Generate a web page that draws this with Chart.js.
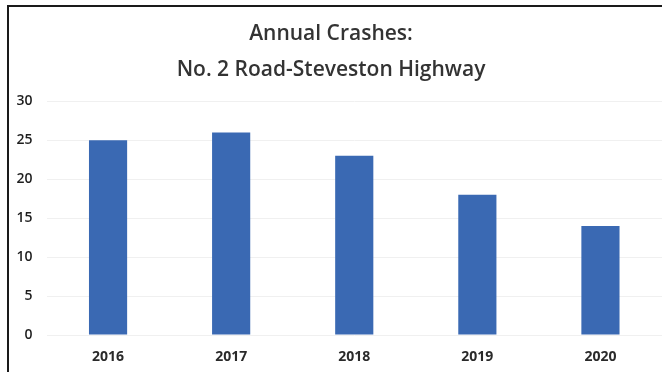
<!DOCTYPE html>
<html>
<head>
<meta charset="utf-8">
<script src="https://cdn.jsdelivr.net/npm/chart.js@4.4.1/dist/chart.umd.min.js"></script>
<style>
    html, body { margin: 0; padding: 0; background: #fff; }
    #wrap { position: relative; width: 662px; height: 372px; }
    #frame {
        position: absolute; left: 7px; top: 5px; right: 0; bottom: 0;
        border-left: 2px solid #1a1a1a; border-top: 2px solid #1a1a1a;
        pointer-events: none;
    }
</style>
</head>
<body>
<div id="wrap">
    <canvas id="crashChart" width="662" height="372"></canvas>
    <div id="frame"></div>
</div>
<script>
// Chart data
const years = ['2016', '2017', '2018', '2019', '2020'];
const crashes = [25, 26, 23, 18, 14];
const titleLines = ['Annual Crashes:', 'No. 2 Road-Steveston Highway'];
const yMax = 30;
const yStep = 5;

const fontFamily = "'Open Sans', 'Liberation Sans', sans-serif";

const ctx = document.getElementById('crashChart');
new Chart(ctx, {
    type: 'bar',
    data: {
        labels: years,
        datasets: [{
            label: 'Crashes',
            data: crashes,
            backgroundColor: '#3a69b3',
            borderWidth: 0,
            categoryPercentage: 1,
            barPercentage: 0.31
        }]
    },
    options: {
        responsive: false,
        animation: false,
        layout: { padding: 0 },
        plugins: {
            legend: { display: false },
            tooltip: { enabled: false },
            title: {
                display: true,
                text: titleLines,
                color: '#333333',
                font: { family: fontFamily, size: 21, weight: '600', lineHeight: 1.72 },
                padding: { top: 16, bottom: 13 }
            }
        },
        scales: {
            x: {
                grid: { display: false, drawTicks: false },
                border: { display: false },
                ticks: {
                    color: '#2a2a2a',
                    font: { family: fontFamily, size: 14, weight: 'bold' },
                    padding: 14
                },
                afterFit: function(scale) { scale.height = 37; }
            },
            y: {
                min: 0,
                max: yMax,
                grid: { color: '#f0f0f0', drawTicks: false },
                border: { display: false },
                ticks: {
                    stepSize: yStep,
                    color: '#1e1e1e',
                    font: { family: fontFamily, size: 14, weight: '600' },
                    padding: 14
                },
                afterFit: function(scale) { scale.width = 46.5; }
            }
        }
    }
});
</script>
</body>
</html>
